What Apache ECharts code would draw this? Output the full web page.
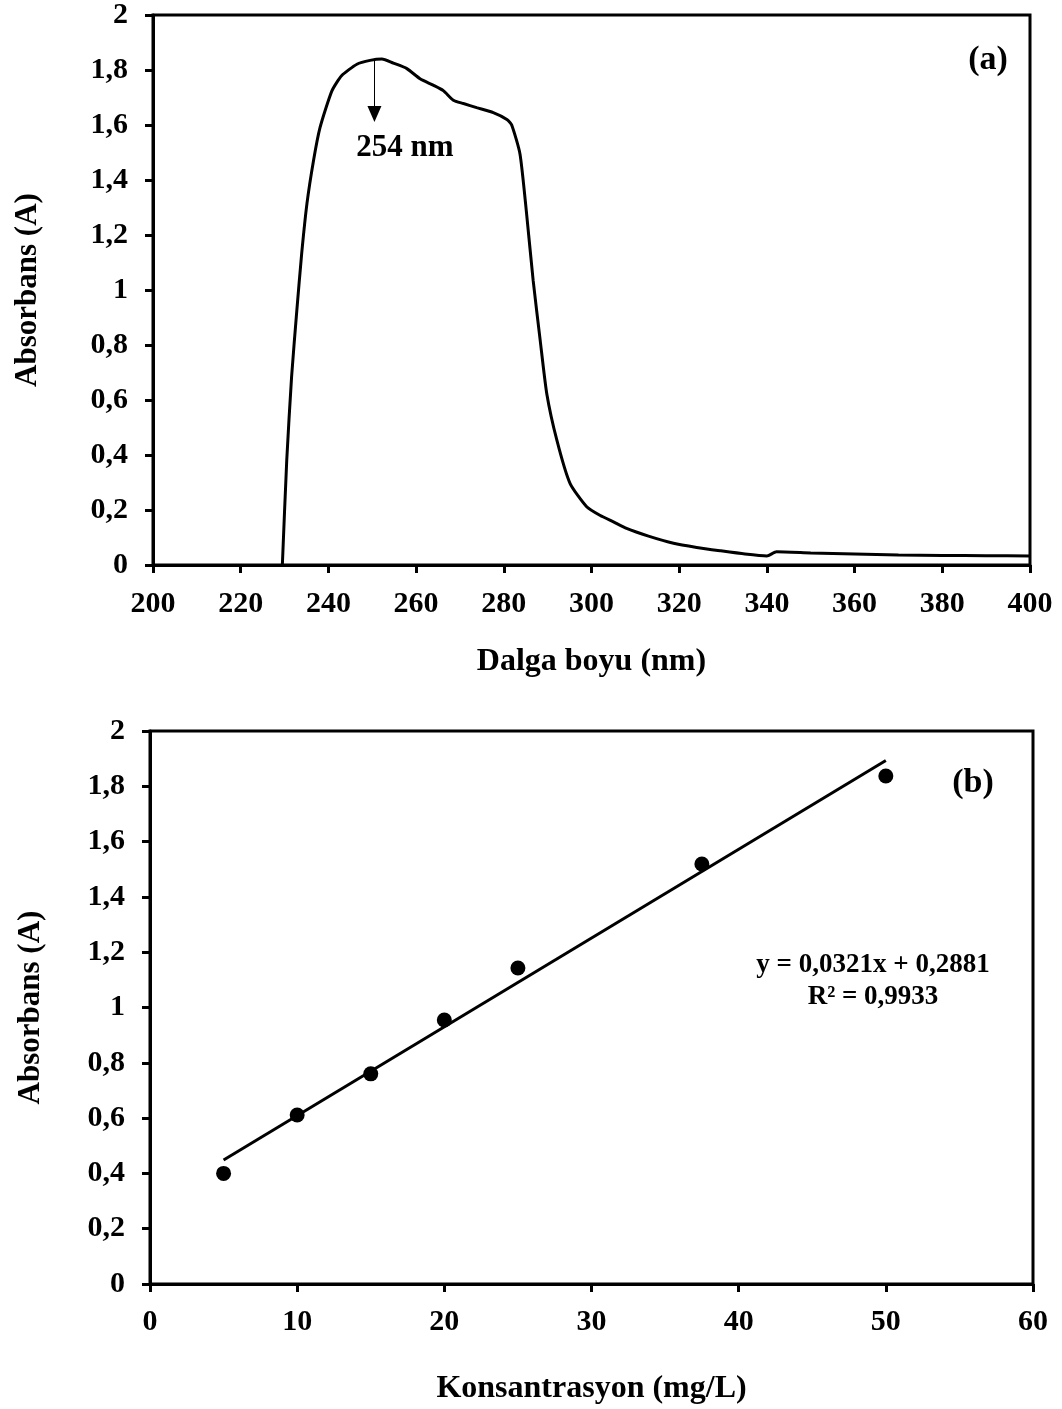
<!DOCTYPE html>
<html>
<head>
<meta charset="utf-8">
<script src="https://cdn.jsdelivr.net/npm/echarts@6/dist/echarts.min.js"></script>
<style>
  html, body { margin: 0; padding: 0; background: #fff; }
  #chart { width: 1062px; height: 1409px; }
</style>
</head>
<body>
<div id="chart"></div>
<script>
// (a) UV spektrumu
const dalgaBoyu = [229.5, 230.5, 231.6, 232.8, 233.9, 235.1, 236.6, 238.1, 240.8, 243, 246.5, 249.5, 252.2,
  254.8, 257.9, 260.9, 264, 266.2, 268.5, 270.8, 273.8, 277.6, 280.7, 281.8, 283.7, 285.2, 286.7, 288.3,
  289.8, 292.1, 295.1, 298.9, 302, 305, 308, 313, 318.7, 324, 329.3, 335, 340, 342.2, 350, 360, 370, 380, 390, 400];
const absorbans = [0, 0.381, 0.683, 0.926, 1.131, 1.313, 1.47, 1.591, 1.724, 1.779, 1.821, 1.835, 1.84,
  1.825, 1.805, 1.768, 1.744, 1.725, 1.69, 1.678, 1.663, 1.645, 1.62, 1.6, 1.494, 1.277, 1.034, 0.817,
  0.623, 0.454, 0.297, 0.212, 0.18, 0.157, 0.133, 0.105, 0.079, 0.064, 0.052, 0.04, 0.033, 0.048, 0.044, 0.04, 0.036, 0.035, 0.034, 0.033];
const tepeOk = [[250.5, 1.835], [250.5, 1.64]];

// (b) kalibrasyon
const konsantrasyon = [5, 10, 15, 20, 25, 37.5, 50];
const kalibAbs = [0.40, 0.611, 0.76, 0.955, 1.143, 1.519, 1.837];
const egim = 0.0321, kesim = 0.2881;
const trendX = [5, 50];

const fontAilesi = '"Liberation Serif", "Times New Roman", serif';
const virgul = function (v) { return String(Number(v.toFixed(1))).replace('.', ','); };

function yEkseni(gridIndex, gap) {
  return {
    gridIndex: gridIndex, type: 'value', min: 0, max: 2, interval: 0.2,
    name: 'Absorbans (A)', nameLocation: 'middle', nameGap: gap,
    nameTextStyle: { fontFamily: fontAilesi, fontWeight: 'bold', fontSize: 31, color: '#000' },
    axisLine: { show: true, lineStyle: { color: '#000', width: 3 } },
    axisTick: { show: true, inside: false, length: 8, lineStyle: { color: '#000', width: 3 } },
    axisLabel: { fontFamily: fontAilesi, fontWeight: 'bold', fontSize: 30, color: '#000', margin: 25, formatter: virgul },
    splitLine: { show: false }
  };
}
function xEkseni(gridIndex, min, max, interval, ad, gap, margin) {
  return {
    gridIndex: gridIndex, type: 'value', min: min, max: max, interval: interval,
    name: ad, nameLocation: 'middle', nameGap: gap,
    nameTextStyle: { fontFamily: fontAilesi, fontWeight: 'bold', fontSize: 32, color: '#000' },
    axisLine: { show: true, onZero: false, lineStyle: { color: '#000', width: 3 } },
    axisTick: { show: true, inside: false, length: 8, lineStyle: { color: '#000', width: 3 } },
    axisLabel: { fontFamily: fontAilesi, fontWeight: 'bold', fontSize: 30, color: '#000', margin: margin },
    splitLine: { show: false }
  };
}

const chart = echarts.init(document.getElementById('chart'));
const option = {
  backgroundColor: '#fff',
  animation: false,
  grid: [
    { left: 153, top: 14, width: 877, height: 551, show: true, borderColor: '#000', borderWidth: 3, backgroundColor: 'transparent' },
    { left: 150, top: 731, width: 883, height: 553, show: true, borderColor: '#000', borderWidth: 3, backgroundColor: 'transparent' }
  ],
  xAxis: [
    xEkseni(0, 200, 400, 20, 'Dalga boyu (nm)', 81, 24),
    xEkseni(1, 0, 60, 10, 'Konsantrasyon (mg/L)', 89, 23)
  ],
  yAxis: [yEkseni(0, 110), yEkseni(1, 104)],
  series: [
    {
      type: 'line', xAxisIndex: 0, yAxisIndex: 0, smooth: 0.2, symbol: 'none',
      lineStyle: { color: '#000', width: 3 },
      data: dalgaBoyu.map((x, i) => [x, absorbans[i]]),
      markLine: {
        silent: true, symbol: ['none', 'triangle'], symbolSize: [14, 16],
        label: { show: false },
        lineStyle: { color: '#000', width: 1, type: 'solid' },
        data: [[{ coord: tepeOk[0] }, { coord: tepeOk[1] }]]
      }
    },
    {
      type: 'line', xAxisIndex: 1, yAxisIndex: 1, symbol: 'none',
      lineStyle: { color: '#000', width: 3 },
      data: trendX.map(x => [x, egim * x + kesim])
    },
    {
      type: 'scatter', xAxisIndex: 1, yAxisIndex: 1, symbol: 'circle', symbolSize: 15,
      itemStyle: { color: '#000', opacity: 1 },
      data: konsantrasyon.map((x, i) => [x, kalibAbs[i]])
    }
  ],
  graphic: [
    { type: 'text', x: 988, y: 60, style: { text: '(a)', font: 'bold 34px ' + fontAilesi, fill: '#000', align: 'center', verticalAlign: 'middle' } },
    { type: 'text', x: 405, y: 148, style: { text: '254 nm', font: 'bold 31px ' + fontAilesi, fill: '#000', align: 'center', verticalAlign: 'middle' } },
    { type: 'text', x: 973, y: 783, style: { text: '(b)', font: 'bold 34px ' + fontAilesi, fill: '#000', align: 'center', verticalAlign: 'middle' } },
    { type: 'text', x: 873, y: 981, style: { text: 'y = 0,0321x + 0,2881\nR² = 0,9933', font: 'bold 27px ' + fontAilesi, fill: '#000', align: 'center', verticalAlign: 'middle', lineHeight: 32 } }
  ]
};
chart.setOption(option);
</script>
</body>
</html>
